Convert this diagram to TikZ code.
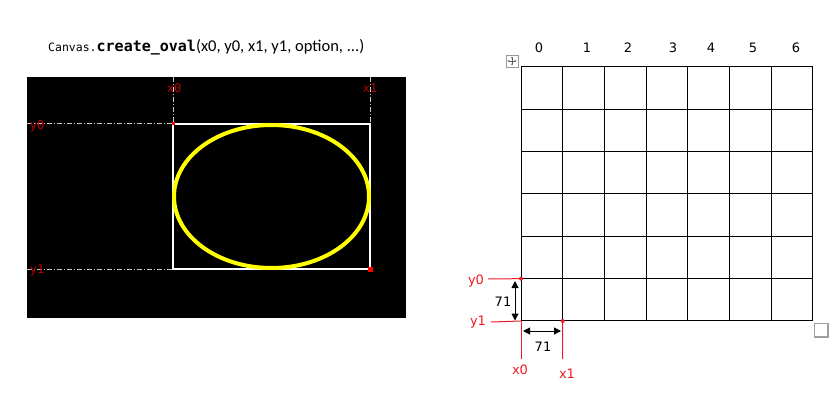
\documentclass[tikz,border=0pt]{standalone}
\usepackage{fontspec}
\setmainfont{DejaVu Sans}
\newfontfamily\carl{Carlito}
\newfontfamily\monof{DejaVu Sans Mono}
\usetikzlibrary{arrows.meta}
\definecolor{annred}{RGB}{237,28,36}
\definecolor{pixred}{RGB}{190,0,0}
\definecolor{dashgray}{RGB}{200,200,200}
\definecolor{pureyellow}{RGB}{255,255,0}
\begin{document}
\begin{tikzpicture}[x=1pt,y=-1pt,
  gridline/.style={line width=1pt,black},
  annline/.style={annred,line width=1pt},
  annlabel/.style={annred,font=\fontsize{13}{13}\selectfont,inner sep=0pt},
  dimlabel/.style={black,font=\fontsize{13}{13}\selectfont,inner sep=0pt},
  dimarrow/.style={line width=1pt,{Triangle[length=7pt,width=7pt]}-{Triangle[length=7pt,width=7pt]}},
  collabel/.style={font=\fontsize{13}{13}\selectfont,inner sep=0pt},
  pixlabel/.style={pixred,font=\monof\fontsize{12}{12}\selectfont,inner sep=0pt},
  guide/.style={dashgray,line width=1pt,dash pattern=on 5pt off 2pt on 1pt off 2pt}]
\useasboundingbox (0,0) rectangle (837,403);
% title
\node[anchor=west,inner sep=0pt] (title) at (48,47)
  {{\monof\fontsize{11.5}{11.5}\selectfont Canvas.}{\monof\bfseries\fontsize{15}{15}\selectfont create\_oval}{\carl\fontsize{16.5}{16.5}\selectfont (x0, y0, x1, y1, option, ...)}};
% left black panel
\fill[black] (27,77) rectangle (406,318);
\coordinate (lx0) at (173,124);
\coordinate (lx1) at (370,269);
\coordinate (lc) at (271.5,196.5);
\draw[guide] (173,77) -- (lx0);
\draw[guide] (370,77) -- (370,124);
\draw[guide] (27,124) -- (lx0);
\draw[guide] (27,269) -- (173,269);
\draw[white,line width=1.5pt] (lx0) rectangle (lx1);
\draw[white,line width=2.5pt] (370,124) -- (lx1);
\draw[pureyellow,line width=4pt] (lc) ellipse [x radius=97.5,y radius=71.5];
\fill[red] (171.5,122.5) rectangle (174.5,125.5);
\fill[red] (367.5,266.5) rectangle (372.5,271.5);
\node[pixlabel] (lx0l) at (174,88) {x0};
\node[pixlabel] (lx1l) at (370,88) {x1};
\node[pixlabel] (ly0l) at (37,126) {y0};
\node[pixlabel] (ly1l) at (37,270) {y1};
% grid
\foreach \i in {0,...,7} {
  \foreach \j in {0,...,6} {
    \coordinate (c\i-\j) at ({521+\i*41.71},{67+\j*42.33});
  }
}
\foreach \i in {0,...,7} \draw[gridline] (c\i-0) -- (c\i-6);
\foreach \j in {0,...,6} \draw[gridline] (c0-\j) -- (c7-\j);
% column labels
\foreach \n/\x in {0/539,1/587,2/628,3/673,4/711,5/753,6/796}
  \node[collabel] (col\n) at (\x,48) {\n};
% move icon
\draw[gray!80,line width=0.8pt] (506,55) rectangle (518,67);
\draw[gray!70!black,line width=0.6pt,{Stealth[length=2pt,width=2pt]}-{Stealth[length=2pt,width=2pt]}] (507.5,61) -- (516.5,61);
\draw[gray!70!black,line width=0.6pt,{Stealth[length=2pt,width=2pt]}-{Stealth[length=2pt,width=2pt]}] (512,56.5) -- (512,65.5);
% bottom-right handle
\draw[gray!75,line width=1.2pt] (814.5,323.5) rectangle (828,337);
% annotations
\coordinate (y0s) at (488,279);
\coordinate (y1s) at (491,322);
\coordinate (x0e) at (521,359);
\coordinate (x1e) at (562.7,359);
\draw[annline] (y0s) -- (c0-5);
\draw[annline] (y1s) -- (c0-6);
\draw[annline] (c0-6) -- (x0e);
\draw[annline] (c1-6) -- (x1e);
\fill[annred] (c0-5) circle (2pt);
\fill[annred] (c1-6) circle (2pt);
\coordinate (va) at (515,281);
\coordinate (vb) at (515,320.5);
\coordinate (ha) at (523,331);
\coordinate (hb) at (561,331);
\draw[dimarrow] (va) -- (vb);
\draw[dimarrow] (ha) -- (hb);
\node[annlabel] (y0l) at (476,281) {y0};
\node[annlabel] (y1l) at (478,322) {y1};
\node[annlabel] (x0l) at (520,370) {x0};
\node[annlabel] (x1l) at (567,374) {x1};
\node[dimlabel] (d1) at (503,302) {71};
\node[dimlabel] (d2) at (543,347) {71};
\end{tikzpicture}
\end{document}
